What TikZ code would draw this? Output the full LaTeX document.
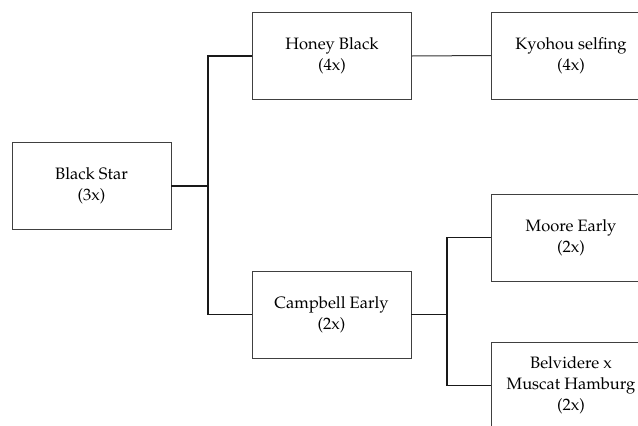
\documentclass[tikz,border=0pt]{standalone}
\usepackage[T1]{fontenc}
\usepackage{mathpazo}
\begin{document}
\begin{tikzpicture}[x=1pt,y=-1pt,
  box/.style={draw=black!75, line width=0.8pt, minimum width=159pt, minimum height=87pt,
    inner sep=0pt, align=center, font=\fontsize{16.5}{21}\selectfont},
  bracket/.style={draw=black!90, line width=1.4pt},
  thinline/.style={draw=black!80, line width=1pt}]
\useasboundingbox (0,0) rectangle (638,426);
\clip (0,0) rectangle (638,426);
\node[box] (bs) at (91.5,186) {Black Star\\(3x)};
\node[box] (hb) at (332,56) {Honey Black\\(4x)};
\node[box] (ky) at (571,55.5) {Kyohou selfing\\(4x)};
\node[box] (ce) at (331.5,314.5) {Campbell Early\\(2x)};
\node[box] (me) at (571,237.5) {Moore Early\\(2x)};
\node[box] (bv) at (571,385.5) {Belvidere x\\Muscat Hamburg\\(2x)};
\coordinate (t1) at (208,186);
\coordinate (t2) at (447,314.5);
\draw[bracket] (bs.east) -- (t1);
\draw[bracket] (t1) |- (hb.west);
\draw[bracket] (t1) |- (ce.west);
\draw[thinline] (hb.east) -- (ky.west);
\draw[bracket] (ce.east) -- (t2);
\draw[bracket] (t2) |- (me.west);
\draw[bracket] (t2) |- (bv.west);
\end{tikzpicture}
\end{document}
